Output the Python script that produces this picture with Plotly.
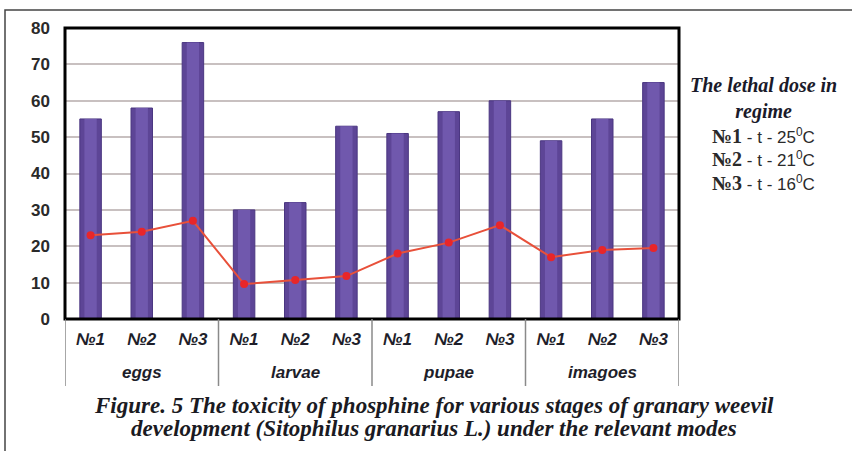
import plotly.graph_objects as go

stages = ["eggs", "larvae", "pupae", "imagoes"]
regimes = ["№1", "№2", "№3"]
bar_values = [55, 58, 76, 30, 32, 53, 51, 57, 60, 49, 55, 65]
line_values = [23, 24, 27, 9.6, 10.7, 11.8, 18, 21, 25.8, 17, 19, 19.5]
y_ticks = [0, 10, 20, 30, 40, 50, 60, 70, 80]
legend_title = ["The lethal dose in", "regime"]
legend_rows = [("№1", "25"), ("№2", "21"), ("№3", "16")]
caption = ["Figure. 5 The toxicity of phosphine for various stages of granary weevil",
           "development (Sitophilus granarius L.) under the relevant modes"]

W, H = 852, 451
L, R, T, B = 65, 173, 28, 132
pw, ph = W - L - R, H - T - B

def px(x):
    return (x - L) / pw

def py(y):
    return (H - B - y) / ph

xs = list(range(len(bar_values)))
ticktext = [r for s in stages for r in regimes]

fig = go.Figure()
fig.add_trace(go.Bar(x=xs, y=bar_values, width=0.42,
                     marker=dict(color="#5d4596", line=dict(color="#4a3680", width=1)),
                     showlegend=False, hoverinfo="skip"))
fig.add_trace(go.Bar(x=xs, y=bar_values, width=0.24,
                     marker=dict(color="#7058ad", line=dict(width=0)),
                     showlegend=False))
fig.add_trace(go.Scatter(x=xs, y=line_values, mode="lines+markers",
                         line=dict(color="#e8503a", width=2),
                         marker=dict(color="#e8262a", size=8),
                         showlegend=False))

fig.update_layout(
    width=W, height=H,
    margin=dict(l=L, r=R, t=T, b=B),
    paper_bgcolor="white", plot_bgcolor="white",
    barmode="overlay",
    xaxis=dict(range=[-0.5, len(xs) - 0.5], tickvals=xs, ticktext=ticktext,
               showgrid=False, zeroline=False, showline=False, ticks="",
               ticklabelstandoff=8,
               tickfont=dict(family="Liberation Sans", size=17, color="#1e1e2a", weight="bold", style="italic")),
    yaxis=dict(range=[0, 80], tickvals=y_ticks, showgrid=True, gridcolor="#c8c0c0", gridwidth=1.5,
               zeroline=False, showline=False, ticks="", ticklabelstandoff=14,
               tickfont=dict(family="Liberation Sans", size=17, color="#2a2a2a", weight="bold")),
)

# plot-area frame
fig.add_shape(type="rect", xref="paper", yref="paper", x0=0, x1=1, y0=0, y1=1,
              line=dict(color="black", width=3))
# outer thin frame
fig.add_shape(type="rect", xref="paper", yref="paper", x0=px(5), x1=px(W + 20),
              y0=py(H + 20), y1=py(10), line=dict(color="#444", width=1.5), layer="below")

# group separators and labels
n = len(regimes)
for g in range(len(stages) + 1):
    xv = g * n - 0.5
    fig.add_shape(type="line", xref="x", yref="paper", x0=xv, x1=xv, y0=py(319), y1=py(386),
                  line=dict(color="#8a8a8a", width=1.5))
for g, s in enumerate(stages):
    fig.add_annotation(x=g * n + (n - 1) / 2, y=py(372), xref="x", yref="paper", text=s,
                       showarrow=False, xanchor="center", yanchor="middle",
                       font=dict(family="Liberation Sans", size=17, color="#1e1e2a", weight="bold", style="italic"))

# legend-like text block
cx = px(763)
fig.add_annotation(x=cx, y=py(98), xref="paper", yref="paper", text="<br>".join(legend_title),
                   showarrow=False, xanchor="center", yanchor="middle", align="center",
                   font=dict(family="Liberation Serif", size=20, color="#1a1a2a", weight="bold", style="italic"))
for i, (r, temp) in enumerate(legend_rows):
    txt = (f"<span style='font-family:Liberation Serif;font-size:20px;font-weight:bold'>{r}</span>"
           f" - t - {temp}<sup>0</sup>C")
    fig.add_annotation(x=cx, y=py(136 + 23.5 * i), xref="paper", yref="paper", text=txt, showarrow=False,
                       xanchor="center", yanchor="middle",
                       font=dict(family="Liberation Sans", size=17, color="#2a2a2a"))

# caption
for i, t in enumerate(caption):
    fig.add_annotation(x=px(434), y=py(405 + 23 * i), xref="paper", yref="paper", text=t, showarrow=False,
                       xanchor="center", yanchor="middle",
                       font=dict(family="Liberation Serif", size=23, color="#1a1a22", weight="bold", style="italic"))

fig.write_html("out.html")
